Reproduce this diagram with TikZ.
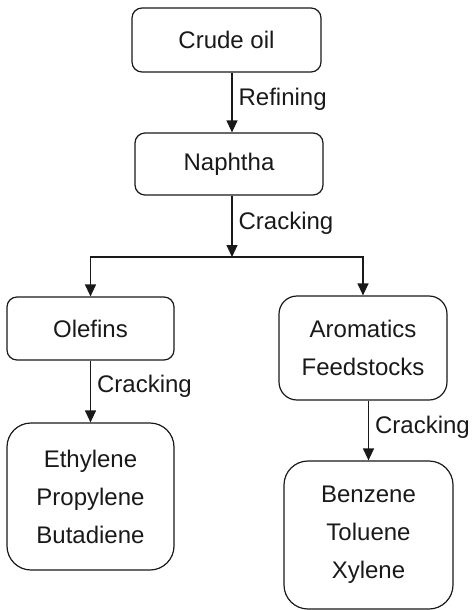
\documentclass[tikz,border=0pt]{standalone}
\usepackage{fontspec}
\setmainfont{Liberation Sans}
\usetikzlibrary{arrows.meta, positioning}

\begin{document}
\begin{tikzpicture}[x=1pt, y=-1pt,
  box/.style={draw=black!90, line width=1.2pt, rounded corners=#1, align=center,
    inner sep=0pt, text=black!90, font=\fontsize{24}{38}\selectfont},
  box/.default=10pt,
  flow/.style={draw=black!90, line width=1.2pt, -{Triangle[length=12pt, width=11pt]}},
  lbl/.style={right=6pt, inner sep=0pt, text=black!90, font=\fontsize{24}{28}\selectfont}]
\useasboundingbox (0,0) rectangle (472,610);
% boxes
\node [box, minimum width=189pt, minimum height=64pt]  (crude)     at (226.5,40)  {Crude oil};
\node [box, minimum width=188pt, minimum height=62pt]  (naphtha)   at (229,164)   {Naphtha};
\node [box, minimum width=167pt, minimum height=63pt]  (olefins)   at (90.5,328.5) {Olefins};
\node [box=18pt, minimum width=168pt, minimum height=104pt] (aromatics) at (363,348) {Aromatics\\Feedstocks};
\node [box=24pt, minimum width=167pt, minimum height=147pt] (olefinprod) at (90.5,496.5) {Ethylene\\Propylene\\Butadiene};
\node [box=24pt, minimum width=169pt, minimum height=148pt] (aromprod)  at (368.5,535) {Benzene\\Toluene\\Xylene};
\coordinate (split) at (232,257);
% connectors
\draw [flow] (crude.south -| split) -- node [lbl, pos=0.45] {Refining} (naphtha.north -| split);
\draw [flow] (naphtha.south -| split) -- node [lbl, pos=0.45] {Cracking} (split);
\draw [flow] (split) -| (olefins.north);
\draw [flow] (split) -| (aromatics.north);
\draw [flow] (olefins) -- node [lbl, pos=0.42] {Cracking} (olefinprod);
\draw [flow] (aromatics.south -| aromprod) -- node [lbl, pos=0.45] {Cracking} (aromprod);
\end{tikzpicture}
\end{document}
